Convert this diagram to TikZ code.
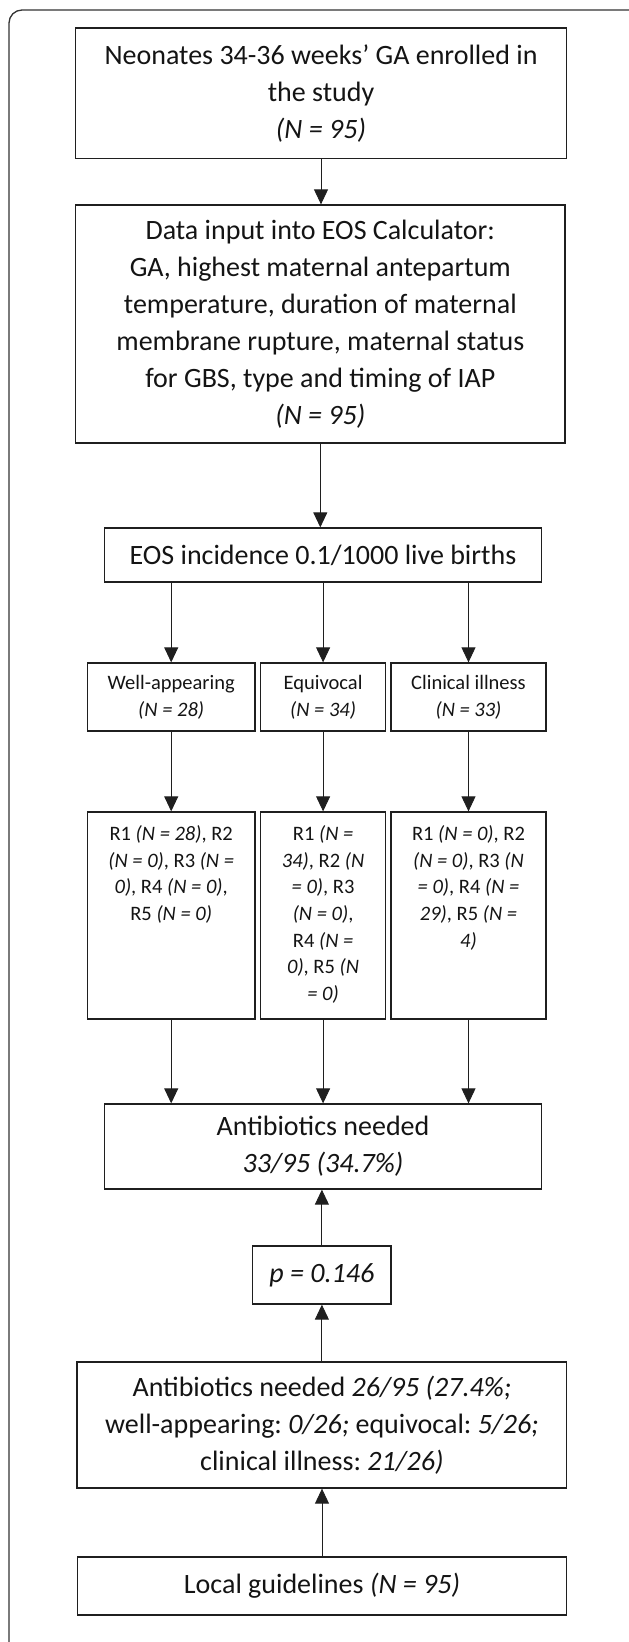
\documentclass[tikz,border=0pt]{standalone}
\usepackage{fontspec}
\setmainfont{Carlito}
\usetikzlibrary{arrows.meta,calc}
\newcommand\mainsz{\fontsize{28}{37}\selectfont}
\newcommand\smallsz{\fontsize{20.5}{26.7}\selectfont}
\frenchspacing
\begin{document}
\begin{tikzpicture}[x=1pt,y=-1pt,
  box/.style={draw=black!88, line width=1.3pt, inner sep=0pt, align=center, font=\mainsz, text=black!92},
  sbox/.style={draw=black!88, line width=1.3pt, inner sep=0pt, align=center, font=\smallsz, text=black!92},
  rtext/.style={inner sep=0pt, font=\smallsz, text=black!92, anchor=base},
  arr/.style={line width=0.9pt, draw=black!88, -{Triangle[width=14pt,length=15pt]}},
  frame/.style={draw=black!80, line width=1.3pt, rounded corners=13pt}]
\useasboundingbox (0,0) rectangle (629,1642);
\draw[frame, overlay] (9,10) rectangle (642,1655);

\node[box, minimum width=490.5pt, minimum height=130.5pt] (n1) at (321,93.2)
  {Neonates 34-36 weeks’ GA enrolled in\\the study\\\textit{(N = 95)}};
\node[box, minimum width=489.5pt, minimum height=238pt] (n2) at (320.3,324)
  {Data input into EOS Calculator:\\GA, highest maternal antepartum\\temperature, duration of maternal\\membrane rupture, maternal status\\for GBS, type and timing of IAP\\\textit{(N = 95)}};
\node[box, minimum width=437pt, minimum height=54pt] (eos) at (323,555)
  {EOS incidence 0.1/1000 live births};

\node[sbox, minimum width=167.7pt, minimum height=68pt] (w) at (171.2,697)
  {Well-appearing\\\textit{(N = 28)}};
\node[sbox, minimum width=125.3pt, minimum height=68pt] (e) at (323.1,697)
  {Equivocal\\\textit{(N = 34)}};
\node[sbox, minimum width=155pt, minimum height=68pt] (c) at (468.5,697)
  {Clinical illness\\\textit{(N = 33)}};

\node[sbox, minimum width=167.7pt, minimum height=207pt] (rw) at (171.2,915.5) {};
\node[sbox, minimum width=125.3pt, minimum height=207pt] (re) at (323.1,915.5) {};
\node[sbox, minimum width=155pt, minimum height=207pt] (rc) at (468.5,915.5) {};

\node[rtext] (tw) at ($(rw.north)+(0,29)$) {\parbox[t]{200pt}{\centering
  R1 \textit{(N = 28)}, R2\\\textit{(N = 0)}, R3 \textit{(N =}\\\textit{0)}, R4 \textit{(N = 0)},\\R5 \textit{(N = 0)}}};
\node[rtext] (te) at ($(re.north)+(0,29)$) {\parbox[t]{200pt}{\centering
  R1 \textit{(N =}\\\textit{34)}, R2 \textit{(N}\\\textit{= 0)}, R3\\\textit{(N = 0)},\\R4 \textit{(N =}\\\textit{0)}, R5 \textit{(N}\\\textit{= 0)}}};
\node[rtext] (tc) at ($(rc.north)+(0,29)$) {\parbox[t]{200pt}{\centering
  R1 \textit{(N = 0)}, R2\\\textit{(N = 0)}, R3 \textit{(N}\\\textit{= 0)}, R4 \textit{(N =}\\\textit{29)}, R5 \textit{(N =}\\\textit{4)}}};

\node[box, minimum width=437pt, minimum height=85pt] (anti) at (323,1146.5)
  {Antibiotics needed\\\textit{33/95 (34.7\%)}};
\node[box, minimum width=138.3pt, minimum height=58pt] (pb) at (321.9,1275)
  {\textit{p = 0.146}};
\node[box, minimum width=489.8pt, minimum height=126pt] (a2) at (321.9,1425)
  {Antibiotics needed \textit{26/95 (27.4\%;}\\well-appearing: \textit{0/26;} equivocal: \textit{5/26;}\\clinical illness: \textit{21/26)}};
\node[box, minimum width=489.4pt, minimum height=58pt] (loc) at (322,1586)
  {Local guidelines \textit{(N = 95)}};

\draw[arr] (n1.south) -- (n1.south |- n2.north);
\draw[arr] (n2.south) -- (n2.south |- eos.north);
\draw[arr] (eos.south -| w.north) -- (w.north);
\draw[arr] (eos.south -| e.north) -- (e.north);
\draw[arr] (eos.south -| c.north) -- (c.north);
\draw[arr] (w.south) -- (rw.north);
\draw[arr] (e.south) -- (re.north);
\draw[arr] (c.south) -- (rc.north);
\draw[arr] (rw.south) -- (rw.south |- anti.north);
\draw[arr] (re.south) -- (re.south |- anti.north);
\draw[arr] (rc.south) -- (rc.south |- anti.north);
\draw[arr] (pb.north) -- (pb.north |- anti.south);
\draw[arr] (a2.north) -- (a2.north |- pb.south);
\draw[arr] (loc.north) -- (loc.north |- a2.south);
\end{tikzpicture}
\end{document}
